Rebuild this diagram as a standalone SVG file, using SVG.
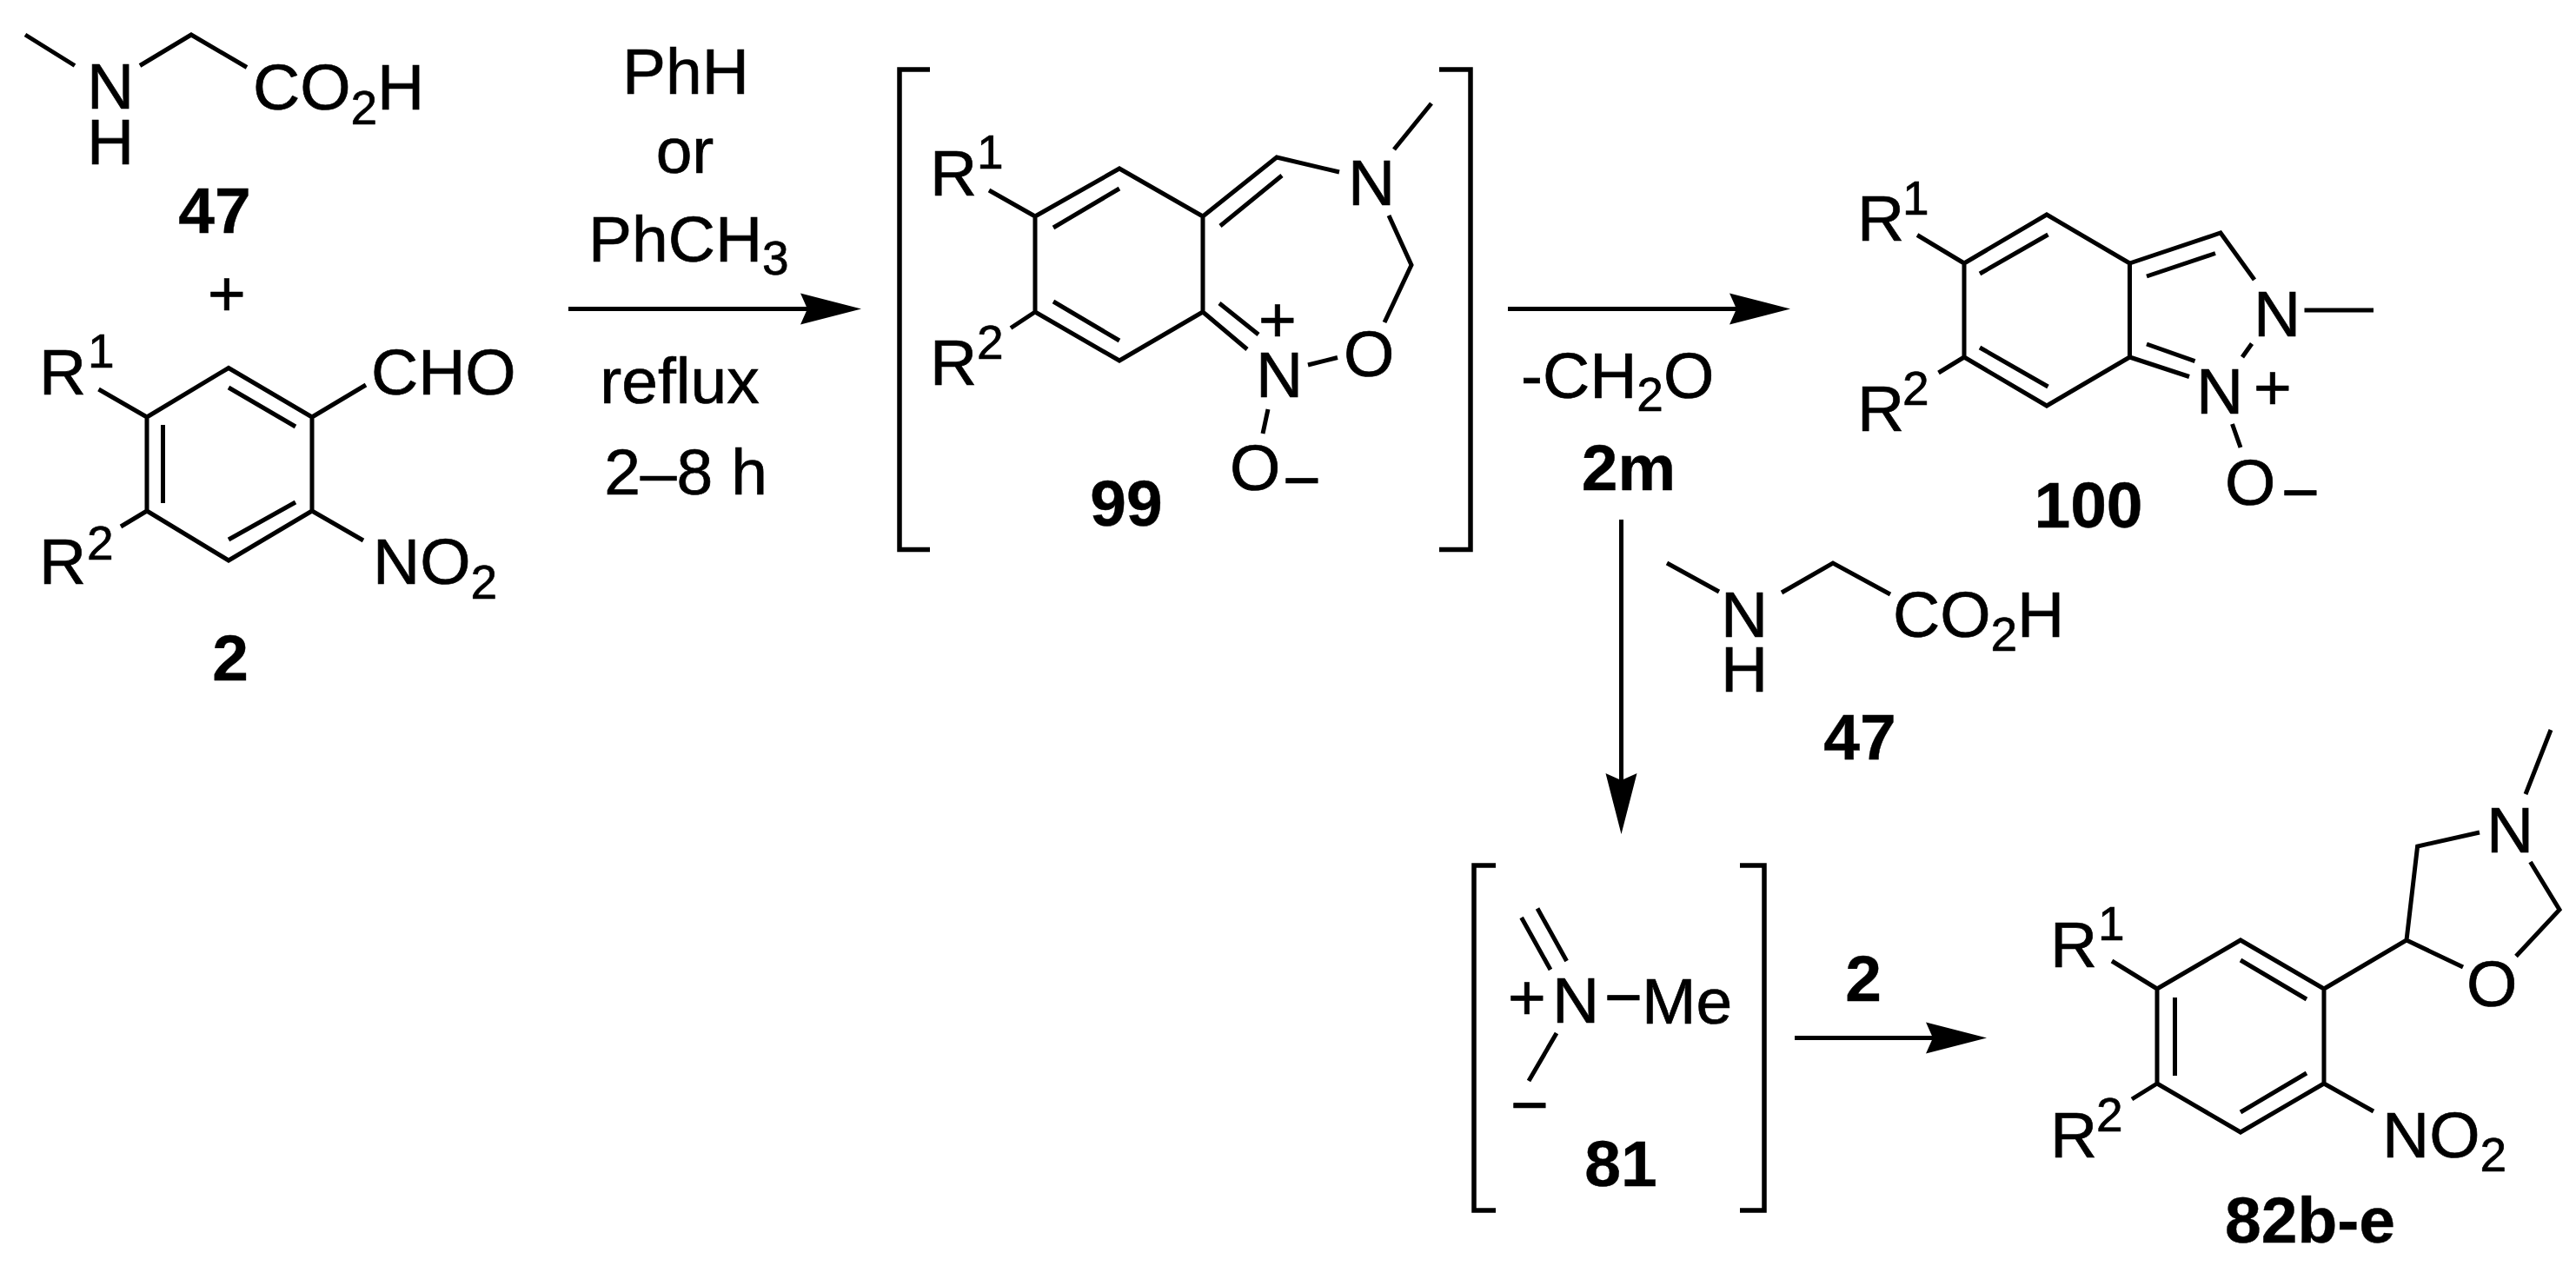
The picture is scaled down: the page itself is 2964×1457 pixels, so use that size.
<svg xmlns="http://www.w3.org/2000/svg" width="2964" height="1457" viewBox="0 0 2964 1457">
<style>
text{font-family:"Liberation Sans",Arial,sans-serif;font-size:75px;fill:#000;stroke:#000;stroke-width:.7}
.b{font-weight:bold;font-size:75px;text-anchor:middle;stroke-width:.4}
.m{text-anchor:middle}
.s{font-size:55px}
path,line{stroke:#000;stroke-width:5;fill:none}
.br{stroke-width:5.5}
.ah{fill:#000;stroke:none}
</style>
<defs>
<marker id="arrow" markerUnits="userSpaceOnUse" markerWidth="74" markerHeight="40" refX="9" refY="20" orient="auto">
<path class="ah" d="M1 2L71 20L1 38L9 20Z"/>
</marker>
</defs>
<rect width="2964" height="1457" fill="#fff"/>
<g id="connectors">
<line x1="654" y1="355.5" x2="929" y2="355.5" marker-end="url(#arrow)"/>
<line x1="1735" y1="355.5" x2="1998" y2="355.5" marker-end="url(#arrow)"/>
<line x1="1865.5" y1="598" x2="1865.5" y2="898" marker-end="url(#arrow)"/>
<line x1="2065" y1="1194.5" x2="2224" y2="1194.5" marker-end="url(#arrow)"/>
</g>
<g id="sarcosine-47">
<path d="M29 40L86 75.5M161 75.5L220 40L284 77.5"/>
<text x="100" y="125">N</text><text x="100" y="189">H</text>
<text x="291" y="126">CO<tspan class="s" dy="17">2</tspan><tspan dy="-17">H</tspan></text>
<text class="b" x="247" y="268">47</text>
</g>
<text id="plus" class="m" x="261" y="364">+</text>
<g id="aldehyde-2">
<path d="M263 423.5L359 480V588L263 645L169 588V480ZM263 446L340 491M187.5 489V579M340 578L263 621M113.5 448L169 480M421 443L359 480M359 588L418 622M169 588L139 606"/>
<text x="45" y="454">R</text><text class="s" x="101" y="423">1</text>
<text x="427" y="454">CHO</text>
<text x="45" y="672">R</text><text class="s" x="100" y="644">2</text>
<text x="429" y="672">NO<tspan class="s" dy="17">2</tspan></text>
<text class="b" x="265" y="783">2</text>
</g>
<g id="conditions">
<text class="m" x="789" y="108">PhH</text>
<text class="m" x="788" y="199">or</text>
<text x="677" y="301">PhCH<tspan class="s" dy="15">3</tspan></text>
<text class="m" x="782" y="464">reflux</text>
<text class="m" x="789" y="569">2–8 h</text>
</g>
<g id="intermediate-99">
<path class="br" d="M1070 80H1035V632.5H1070M1656 80H1692V632.5H1656"/>
<path d="M1191 249L1288 194L1384 249V359L1288 415L1191 359ZM1212 262L1288 217M1212 347L1288 392M1384 249L1469 181L1541 198M1404 260L1475 202M1604 172L1647 119M1598 248L1624 305L1593 371M1505 420L1539 411.5M1384 359L1435 402M1403 349L1448 385M1459 471L1453 499M1138 219L1191 249M1191 359L1163 377.5"/>
<text x="1070" y="225">R</text><text class="s" x="1124" y="194">1</text>
<text x="1070" y="443">R</text><text class="s" x="1124" y="413">2</text>
<text x="1551" y="236">N</text>
<text x="1546" y="433">O</text>
<text x="1445" y="457">N</text>
<text class="m" x="1470" y="394">+</text>
<text x="1415" y="564">O</text>
<text class="m" x="1498" y="578">−</text>
<text class="b" x="1296" y="605">99</text>
</g>
<g id="loss-2m">
<text x="1750" y="458">-CH<tspan class="s" dy="15">2</tspan><tspan dy="-15">O</tspan></text>
<text class="b" x="1874" y="564">2m</text>
</g>
<g id="product-100">
<path d="M2260 303L2355 247L2450.5 303V411L2355 467L2260 411ZM2278 315L2356.5 270M2278 400L2356.5 445M2450.5 303L2555 268L2594 322M2470 318L2549 291.5M2651.5 357H2731M2591 395.5L2580 411M2450.5 411L2519 433.5M2470 396L2525.5 415.6M2568.5 488L2578 515M2206 270.5L2260 303M2230.5 429L2260 411"/>
<text x="2137" y="277">R</text><text class="s" x="2189" y="247">1</text>
<text x="2137" y="496">R</text><text class="s" x="2189" y="466">2</text>
<text x="2593" y="387">N</text>
<text x="2527" y="476">N</text>
<text class="m" x="2615" y="472">+</text>
<text x="2560" y="581">O</text>
<text class="m" x="2647" y="592">−</text>
<text class="b" x="2403" y="607">100</text>
</g>
<g id="sarcosine-47b">
<path d="M1918 648L1978 681M2050 682L2109 648L2175 684"/>
<text x="1980" y="733">N</text><text x="1980" y="796">H</text>
<text x="2178" y="733">CO<tspan class="s" dy="16">2</tspan><tspan dy="-16">H</tspan></text>
<text class="b" x="2140" y="874">47</text>
</g>
<g id="iminium-81">
<path class="br" d="M1721 996H1696V1393H1721M2002 996H2030V1393H2002"/>
<path d="M1750.6 1056L1784 1116M1769 1045.5L1802.6 1106M1791 1189L1759 1244"/>
<text class="m" x="1757" y="1174">+</text>
<text x="1786" y="1177">N</text>
<text class="m" x="1868" y="1173">−</text>
<text x="1889" y="1178">Me</text>
<text class="m" x="1760" y="1297">−</text>
<text class="b" x="1865" y="1365">81</text>
</g>
<text id="reagent-2" class="b" x="2144" y="1152">2</text>
<g id="product-82">
<path d="M2482 1138L2578 1082L2674 1138V1247L2578 1303L2482 1247ZM2578 1105L2654 1150M2502.5 1148V1238M2654 1235L2578 1280M2430 1106L2482 1138M2482 1247L2453 1265M2674 1247L2731 1279M2674 1138L2769 1082L2781.6 974L2853 958M2906 914L2935 840M2911.5 992L2945 1047L2895 1100.5M2834 1113L2769 1082"/>
<text x="2359" y="1113">R</text><text class="s" x="2414" y="1082">1</text>
<text x="2359" y="1332">R</text><text class="s" x="2412" y="1302">2</text>
<text x="2861" y="981">N</text>
<text x="2838" y="1158">O</text>
<text x="2741" y="1332">NO<tspan class="s" dy="16">2</tspan></text>
<text class="b" x="2658" y="1430">82b-e</text>
</g>
</svg>
